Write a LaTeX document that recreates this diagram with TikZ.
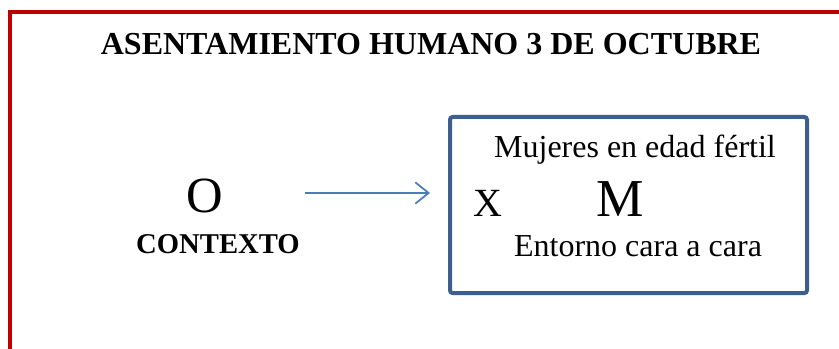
\documentclass[tikz,border=0pt]{standalone}
\usepackage{fontspec}
\setmainfont{Liberation Serif}
\usetikzlibrary{arrows.meta}
\usetikzlibrary{positioning}
\definecolor{marcorojo}{HTML}{C00000}
\definecolor{azulcaja}{HTML}{3C5F8E}
\definecolor{azulflecha}{HTML}{4A7EBB}
\tikzset{marco/.style = {draw=marcorojo, line width=3pt, line cap=rect}}
\tikzset{caja/.style = {draw=azulcaja, line width=3pt, rounded corners=2pt, fill=white,
                        minimum width=267.75pt, minimum height=132pt, inner sep=0}}
\tikzset{flecha/.style = {draw=azulflecha, line width=1.3pt,
                          -{Straight Barb[length=10pt, width=16pt]}}}
\tikzset{txt/.style = {inner sep=0, anchor=base, font=\fontsize{24}{28}\selectfont}}
\tikzset{txtb/.style = {inner sep=0, anchor=base, font=\fontsize{24}{28}\selectfont\bfseries}}

\begin{document}
\begin{tikzpicture}[x=0.75pt, y=-0.75pt]
      \useasboundingbox (0,0) rectangle (839,349);
      \draw [marco] (10,355) -- (10,12) -- (845,12);

      \node [txtb] (titulo) at (431,55) {ASENTAMIENTO HUMANO 3 DE OCTUBRE};

      \node [txt, font=\fontsize{38}{40}\selectfont] (obs) at (205,213) {O};
      \node [txtb, font=\fontsize{21.5}{25}\selectfont\bfseries] (contexto) at (218,253) {CONTEXTO};

      \node [caja] (caja) at (628.5,205) {};
      \node [txt] (mujeres) at (635,158) {Mujeres en edad fértil};
      \node [txt, font=\fontsize{30}{32}\selectfont] (x) at (488,216) {X};
      \node [txt, font=\fontsize{40}{42}\selectfont] (m) at (620,217) {M};
      \node [txt] (entorno) at (638,257) {Entorno cara a cara};

      \coordinate (flechaIni) at (305,193);
      \coordinate (flechaFin) at (430,193);
      \draw [flecha] (flechaIni) -- (flechaFin);
    \end{tikzpicture}
\end{document}
